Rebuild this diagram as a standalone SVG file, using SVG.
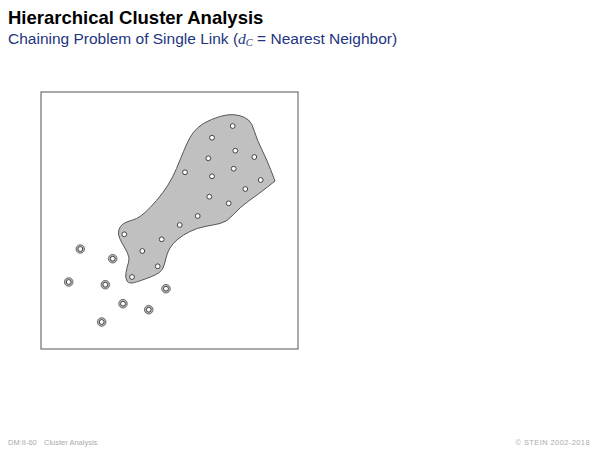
<svg xmlns="http://www.w3.org/2000/svg" width="600" height="450" viewBox="0 0 600 450">
<style>
.title{font-family:"Liberation Sans",Arial,sans-serif;font-weight:bold;font-size:18.5px;fill:#000}
.sub{font-family:"Liberation Sans",Arial,sans-serif;font-size:15.5px;fill:#24347f}
.foot{font-family:"Liberation Sans",Arial,sans-serif;font-size:7.5px;fill:#aaa}
.pt{fill:#fff;stroke:#333;stroke-width:0.9}
.halo{fill:#b8b8b8;stroke:#555;stroke-width:0.8}
</style>
<defs>
<g id="p"><circle class="pt" r="2.4"/></g>
<g id="o"><circle class="halo" r="4.3"/><circle class="pt" r="2.4"/></g>
</defs>
<text class="title" x="8" y="24">Hierarchical Cluster Analysis</text>
<text class="sub" x="8" y="44">Chaining Problem of Single Link (<tspan font-family="Liberation Serif,serif" font-style="italic">d</tspan><tspan font-family="Liberation Serif,serif" font-style="italic" font-size="10.5" dy="2">C</tspan><tspan dy="-2"> = Nearest Neighbor)</tspan></text>
<rect x="41" y="92" width="257" height="257" fill="#fff" stroke="#555" stroke-width="1"/>
<g id="cluster">
<path d="M211.5,119.5 Q220,116 226.5,115 Q233,114 239,115.5 Q245,117 248.5,120 Q252,123 254.5,131.5 Q257,140 262,150 Q267,160 271,170.5 L275,181 L267.5,187 Q260,193 250,200 Q240,207 233.5,214.5 Q227,222 220,223.5 Q213,225 205,226.5 Q197,228 190,231.5 Q183,235 178,239 Q173,243 170,248 Q167,253 166,258 Q165,263 163,268 Q161,273 150.5,277 Q140,281 134.5,282.5 Q129,284 127,281 Q125,278 126,272.5 Q127,267 128.5,262.5 Q130,258 127.5,253 Q125,248 122,243 Q119,238 118.5,234 Q118,230 120.5,226.5 Q123,223 128,221.5 Q133,220 136.5,218.5 Q140,217 145,212.5 Q150,208 156.5,200.5 Q163,193 168,185 Q173,177 176.5,168.5 Q180,160 183.5,151.5 Q187,143 190,137.5 Q193,132 198,127.5 Q203,123 211.5,119.5 Z" fill="#c0c0c0" stroke="#555" stroke-width="1"/>
</g>
<g id="points">
<use href="#p" x="232.7" y="126"/>
<use href="#p" x="212" y="137.7"/>
<use href="#p" x="235.3" y="150.7"/>
<use href="#p" x="208.3" y="158.3"/>
<use href="#p" x="254.3" y="157"/>
<use href="#p" x="185" y="172.3"/>
<use href="#p" x="212" y="176.3"/>
<use href="#p" x="233.7" y="168.7"/>
<use href="#p" x="260.7" y="180"/>
<use href="#p" x="245.3" y="189"/>
<use href="#p" x="209.3" y="196.7"/>
<use href="#p" x="228.7" y="203.3"/>
<use href="#p" x="197.7" y="216"/>
<use href="#p" x="179.7" y="225"/>
<use href="#p" x="124.3" y="234.3"/>
<use href="#p" x="161.7" y="239.3"/>
<use href="#p" x="142.3" y="251"/>
<use href="#p" x="157.7" y="266.3"/>
<use href="#p" x="132" y="277"/>
</g>
<g id="outliers">
<use href="#o" x="80.3" y="249"/>
<use href="#o" x="112.7" y="258.7"/>
<use href="#o" x="68.7" y="282"/>
<use href="#o" x="105.3" y="284.7"/>
<use href="#o" x="166" y="288.7"/>
<use href="#o" x="123" y="303.7"/>
<use href="#o" x="148.7" y="309.7"/>
<use href="#o" x="101.7" y="322"/>
</g>
<text class="foot" x="8" y="445">DM:II-60</text>
<text class="foot" x="44" y="445">Cluster Analysis</text>
<text class="foot" x="590" y="445" text-anchor="end" letter-spacing="0.4">© STEIN 2002-2018</text>
</svg>
